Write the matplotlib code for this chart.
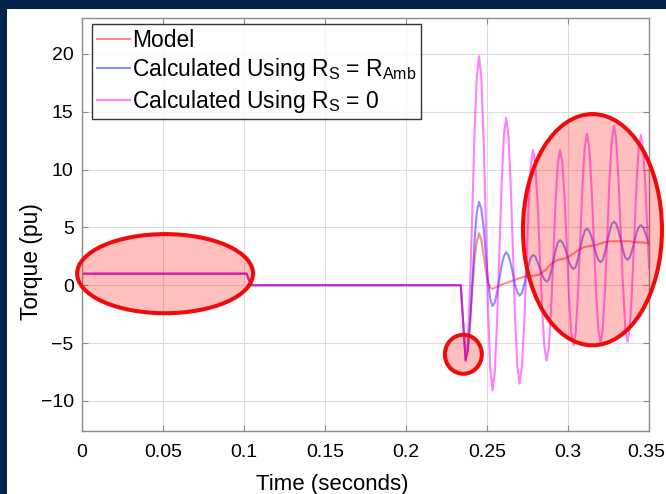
"""
Electromagnetic torque after the fault: simulated model vs. torque
calculated from measured quantities with two stator-resistance assumptions.
"""

import matplotlib
matplotlib.use("Agg")
import matplotlib.pyplot as plt
from matplotlib.patches import Ellipse, Rectangle
from matplotlib.transforms import ScaledTranslation

plt.rcParams["font.family"] = ["Liberation Sans", "DejaVu Sans"]
plt.rcParams["mathtext.fontset"] = "custom"
plt.rcParams["mathtext.rm"] = "Liberation Sans"
plt.rcParams["mathtext.it"] = "Liberation Sans:italic"

NAVY = "#022249"

# time base shared by the two calculated curves (s)
T_CALC = [
    0.0, 0.1015, 0.1045, 0.2338, 0.2368,
    0.2382, 0.2396, 0.2410, 0.2423, 0.2437, 0.2451,
    0.2465, 0.2479, 0.2493, 0.2506, 0.2520, 0.2534,
    0.2548, 0.2562, 0.2576, 0.2590, 0.2604, 0.2618,
    0.2632, 0.2646, 0.2660, 0.2673, 0.2687, 0.2701,
    0.2715, 0.2729, 0.2743, 0.2756, 0.2770, 0.2784,
    0.2798, 0.2812, 0.2826, 0.2840, 0.2854, 0.2868,
    0.2882, 0.2896, 0.2910, 0.2923, 0.2937, 0.2951,
    0.2965, 0.2979, 0.2993, 0.3006, 0.3020, 0.3034,
    0.3048, 0.3062, 0.3076, 0.3089, 0.3103, 0.3117,
    0.3131, 0.3145, 0.3159, 0.3173, 0.3187, 0.3201,
    0.3215, 0.3229, 0.3243, 0.3256, 0.3270, 0.3284,
    0.3298, 0.3312, 0.3326, 0.3340, 0.3353, 0.3367,
    0.3381, 0.3395, 0.3409, 0.3422, 0.3436, 0.3450,
    0.3464, 0.3478, 0.3492, 0.3500,
]

# torque calculated with Rs = R_Amb (pu)
TQ_RAMB = [
    1.0, 1.0, 0.0, 0.0, -6.5,
    -5.6, -3.1, 0.4, 3.8, 6.3, 7.2,
    6.6, 5.0, 2.7, 0.5, -1.2, -1.8,
    -1.5, -0.6, 0.5, 1.7, 2.5, 2.85,
    2.6, 1.9, 1.0, 0.0, -0.6, -0.9,
    -0.7, 0.0, 0.9, 1.7, 2.4, 2.6,
    2.5, 2.0, 1.5, 0.9, 0.5, 0.3,
    0.5, 1.2, 2.1, 3.0, 3.7, 3.9,
    3.7, 3.3, 2.7, 2.0, 1.6, 1.4,
    1.6, 2.3, 3.2, 4.0, 4.7, 4.9,
    4.7, 4.2, 3.5, 2.7, 2.2, 2.0,
    2.2, 2.9, 3.8, 4.6, 5.3, 5.5,
    5.3, 4.7, 3.9, 3.0, 2.4, 2.2,
    2.4, 3.0, 3.7, 4.5, 5.0, 5.2,
    5.0, 4.5, 3.9, 3.6,
]

# torque calculated with Rs = 0 (pu)
TQ_R0 = [
    1.0, 1.0, 0.0, 0.0, -6.5,
    -4.7, 0.1, 6.7, 13.2, 18.0, 19.8,
    17.9, 12.6, 5.4, -1.9, -7.2, -9.1,
    -7.5, -3.2, 2.7, 8.6, 12.9, 14.5,
    13.0, 8.8, 3.0, -2.8, -7.0, -8.5,
    -7.1, -3.5, 1.6, 6.7, 10.3, 11.7,
    10.5, 7.2, 2.6, -2.0, -5.3, -6.5,
    -5.3, -2.0, 2.6, 7.2, 10.5, 11.7,
    10.6, 7.5, 3.3, -1.0, -4.1, -5.2,
    -4.0, -0.6, 4.0, 8.5, 11.9, 13.1,
    11.9, 8.6, 4.1, -0.5, -3.8, -5.0,
    -3.7, -0.3, 4.4, 9.1, 12.5, 13.8,
    12.5, 9.1, 4.5, -0.2, -3.6, -4.9,
    -3.7, -0.4, 4.1, 8.5, 11.8, 13.0,
    11.8, 8.5, 4.1, 1.5,
]

# simulated model torque
T_MODEL = [
    0.0, 0.1015, 0.1045, 0.2338, 0.2368,
    0.2382, 0.2396, 0.2410, 0.2423, 0.2437, 0.2451,
    0.2465, 0.2479, 0.2493, 0.2506, 0.2520, 0.2534,
    0.2580, 0.2620, 0.2660, 0.2700, 0.2740, 0.2780,
    0.2820, 0.2860, 0.2900, 0.2940, 0.2980, 0.3020,
    0.3060, 0.3100, 0.3140, 0.3180, 0.3220, 0.3260,
    0.3300, 0.3340, 0.3380, 0.3420, 0.3460, 0.3500,
]
TQ_MODEL = [
    1.0, 1.0, 0.0, 0.0, -6.5,
    -5.6, -3.2, -0.2, 2.2, 3.8, 4.5,
    3.9, 2.6, 1.2, 0.2, -0.2, -0.3,
    0.0, 0.2, 0.4, 0.6, 0.8, 0.8,
    0.9, 1.3, 1.9, 2.2, 2.3, 2.6,
    3.0, 3.3, 3.4, 3.5, 3.7, 3.8,
    3.8, 3.8, 3.8, 3.7, 3.7, 3.6,
]

X_TICKS = [0, 0.05, 0.1, 0.15, 0.2, 0.25, 0.3, 0.35]
X_TICK_LABELS = ["0", "0.05", "0.1", "0.15", "0.2", "0.25", "0.3", "0.35"]
Y_TICKS = [-10, -5, 0, 5, 10, 15, 20]

# highlighted regions: (centre t, centre torque, width s, height pu)
HIGHLIGHTS = [
    (0.0513, 1.0, 0.1086, 6.84),
    (0.2354, -5.97, 0.0228, 3.37),
    (0.3151, 4.8, 0.0858, 19.99),
]


def main():
    fig = plt.figure(figsize=(6.66, 4.94), dpi=100, facecolor=NAVY)
    # white panel behind the axes
    fig.add_artist(Rectangle((7 / 666, 0), 1, 485 / 494,
                             transform=fig.transFigure,
                             facecolor="white", edgecolor="none", zorder=-10))

    ax = fig.add_axes([82 / 666, (494 - 431) / 494, 567 / 666, 413 / 494])
    ax.set_facecolor("white")

    ax.plot(T_MODEL, TQ_MODEL, color=(1, 0, 0, 0.45), lw=1.5, label="Model")
    ax.plot(T_CALC, TQ_RAMB, color=(0, 0, 1, 0.45), lw=1.5,
            label=r"Calculated Using R$_\mathrm{S}$ = R$_\mathrm{Amb}$")
    ax.plot(T_CALC, TQ_R0, color=(1, 0, 1, 0.5), lw=1.5,
            label=r"Calculated Using R$_\mathrm{S}$ = 0")

    for cx, cy, w, h in HIGHLIGHTS:
        ax.add_patch(Ellipse((cx, cy), w, h, facecolor=(1, 0, 0, 0.25),
                             edgecolor="#f00a0a", lw=2.9, clip_on=False,
                             zorder=5))

    ax.set_xlim(0, 0.35)
    ax.set_ylim(-12.6, 23.1)
    ax.set_xticks(X_TICKS)
    ax.set_xticklabels(X_TICK_LABELS)
    ax.set_yticks(Y_TICKS)
    ax.grid(True, color="#dcdcdc", lw=0.8)
    ax.set_axisbelow(True)
    ax.tick_params(direction="in", top=True, right=True, length=4,
                   color="#8c8c8c", labelsize=14)
    ax.tick_params(axis="x", pad=9)
    ax.tick_params(axis="y", pad=6)
    for sp in ax.spines.values():
        sp.set_color("#8c8c8c")
        sp.set_linewidth(1.0)

    # last x label sits at the figure edge; nudge it inwards
    last = ax.get_xticklabels()[-1]
    last.set_transform(last.get_transform()
                       + ScaledTranslation(-3 / 100, 0, fig.dpi_scale_trans))

    ax.set_xlabel("Time (seconds)", fontsize=16)
    ax.xaxis.set_label_coords(0.441, -0.103)
    ax.set_ylabel("Torque (pu)", fontsize=16.5)
    ax.yaxis.set_label_coords(-0.068, 0.41)

    leg = ax.legend(loc="upper left", bbox_to_anchor=(10 / 567, 1 - 6 / 413),
                    fontsize=16.5, frameon=True, fancybox=False,
                    handlelength=1.45, handletextpad=0.1, labelspacing=0.2,
                    borderpad=0.2, borderaxespad=0)
    leg.get_frame().set_edgecolor("black")
    leg.get_frame().set_linewidth(1.0)
    leg.set_zorder(10)

    fig.savefig("out.png", dpi=100, facecolor=NAVY)
    plt.close(fig)


if __name__ == "__main__":
    main()
